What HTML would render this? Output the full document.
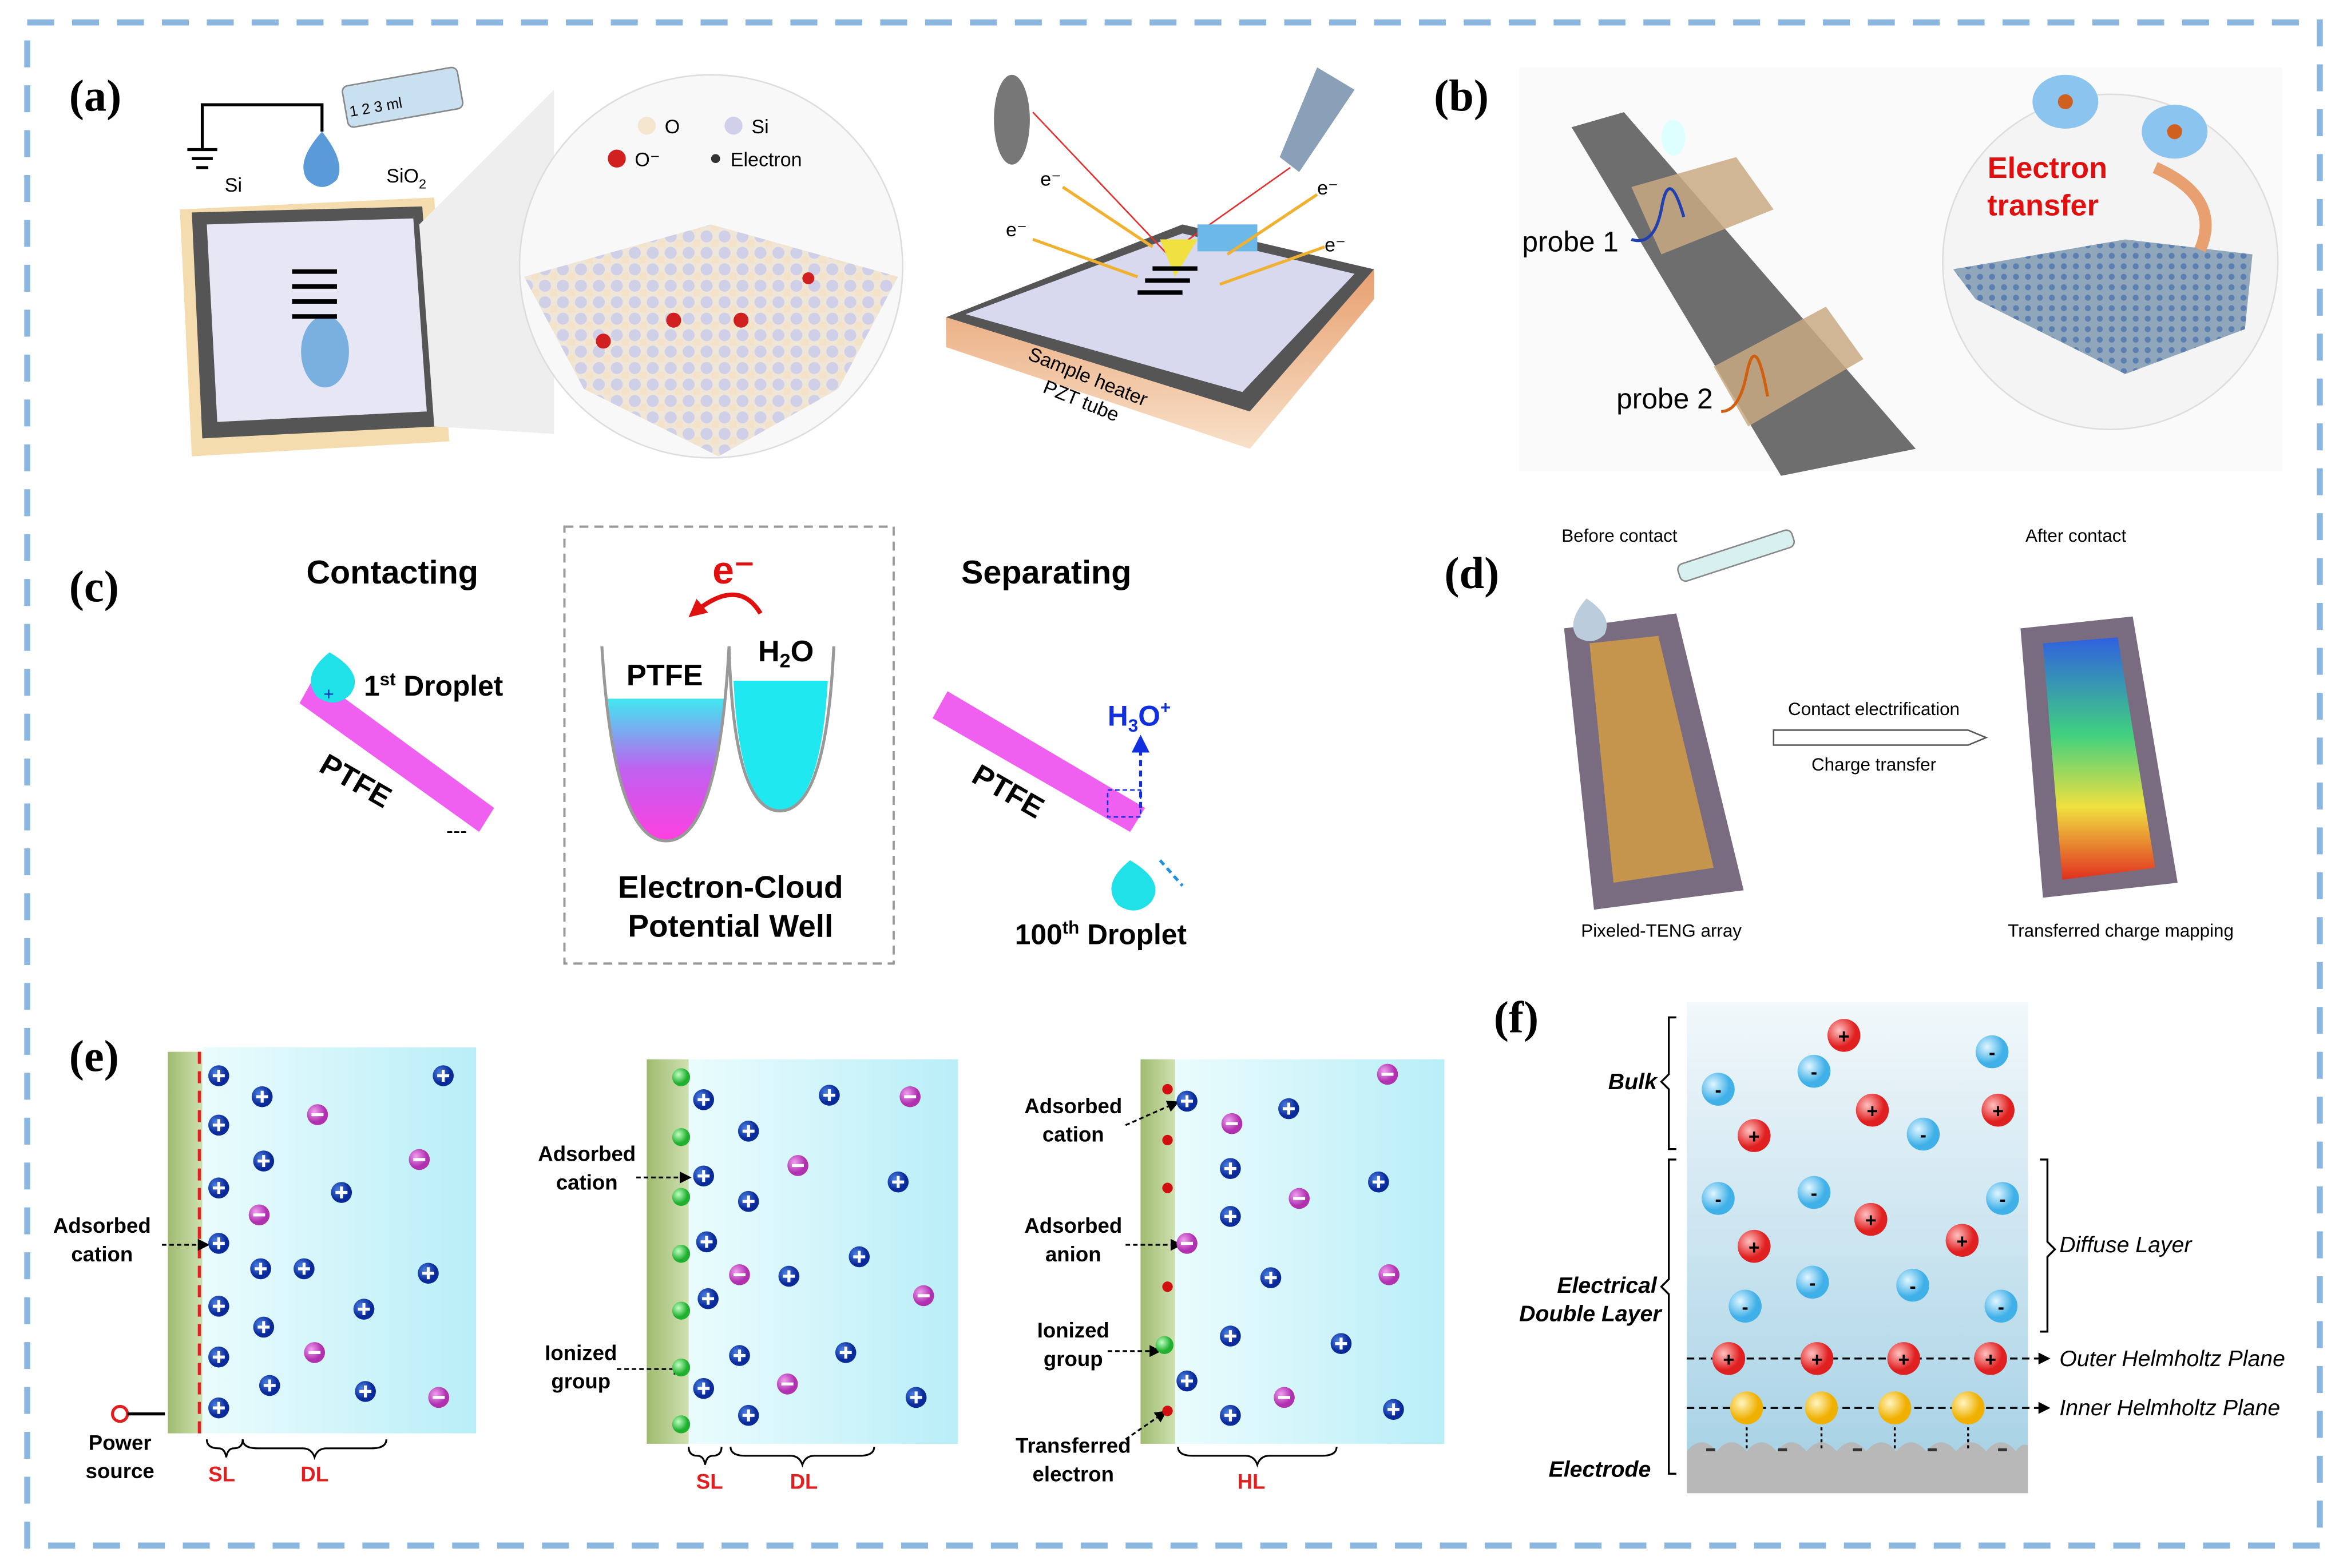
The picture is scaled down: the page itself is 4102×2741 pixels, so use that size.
<!DOCTYPE html>
<html><head><meta charset="utf-8"><style>
html,body{margin:0;padding:0;background:#fff;}
svg{display:block;}
text{font-family:"Liberation Sans",Arial,sans-serif;}
.lab{font-family:"Liberation Serif",serif;font-weight:bold;font-size:30px;}
.b{font-weight:bold;}
</style></head><body>
<svg width="4102" height="2741" viewBox="0 0 1568 1048" xmlns="http://www.w3.org/2000/svg" xmlns:xlink="http://www.w3.org/1999/xlink">
<defs>
<linearGradient id="cy" x1="0" x2="1"><stop offset="0" stop-color="#eafcfd"/><stop offset="1" stop-color="#b9eef8"/></linearGradient>
<linearGradient id="gr" x1="0" x2="1"><stop offset="0" stop-color="#9fbb70"/><stop offset="1" stop-color="#cfe0b0"/></linearGradient>
<linearGradient id="fb" x1="0" y1="0" x2="0" y2="1"><stop offset="0" stop-color="#f2f8fb"/><stop offset="1" stop-color="#a9d3e6"/></linearGradient>
<linearGradient id="well" x1="0" y1="0" x2="0" y2="1"><stop offset="0" stop-color="#40e8f0"/><stop offset="0.5" stop-color="#c060f0"/><stop offset="1" stop-color="#ff40e0"/></linearGradient>
<linearGradient id="heat" x1="0" y1="0" x2="0" y2="1"><stop offset="0" stop-color="#e8a070"/><stop offset="1" stop-color="#f8e0c8"/></linearGradient>
<linearGradient id="map" x1="0" y1="0" x2="0" y2="1"><stop offset="0" stop-color="#3060e0"/><stop offset="0.4" stop-color="#40d080"/><stop offset="0.7" stop-color="#f0e040"/><stop offset="1" stop-color="#e03020"/></linearGradient>
<radialGradient id="cat" cx="0.35" cy="0.35"><stop offset="0" stop-color="#4a7fe0"/><stop offset="1" stop-color="#0a2a9a"/></radialGradient>
<radialGradient id="ani" cx="0.35" cy="0.35"><stop offset="0" stop-color="#f0a0f0"/><stop offset="1" stop-color="#b030b0"/></radialGradient>
<radialGradient id="rp" cx="0.35" cy="0.35"><stop offset="0" stop-color="#ffc0c0"/><stop offset="1" stop-color="#e02020"/></radialGradient>
<radialGradient id="bm" cx="0.35" cy="0.35"><stop offset="0" stop-color="#e0f6ff"/><stop offset="1" stop-color="#40b0e8"/></radialGradient>
<radialGradient id="yl" cx="0.35" cy="0.35"><stop offset="0" stop-color="#fff6c0"/><stop offset="1" stop-color="#f0b000"/></radialGradient>
<radialGradient id="gg" cx="0.35" cy="0.35"><stop offset="0" stop-color="#c0ffc0"/><stop offset="1" stop-color="#20b030"/></radialGradient>
<pattern id="lat" width="12" height="11" patternUnits="userSpaceOnUse"><rect width="12" height="11" fill="#f0e6d8"/><circle cx="4" cy="4" r="4" fill="#cfcfe8"/><circle cx="10" cy="9" r="3" fill="#f3e2c8"/></pattern>
<pattern id="gra" width="8" height="7" patternUnits="userSpaceOnUse"><rect width="8" height="7" fill="#8fa6bb"/><circle cx="3" cy="3" r="2" fill="#5a7fb0"/></pattern>
<marker id="ar" markerUnits="userSpaceOnUse" markerWidth="8" markerHeight="8" refX="6" refY="4" orient="auto"><path d="M0,0 L8,4 L0,8z" fill="#000"/></marker>
<marker id="arr" markerUnits="userSpaceOnUse" markerWidth="12" markerHeight="12" refX="8" refY="6" orient="auto"><path d="M0,0 L12,6 L0,12z" fill="#e01010"/></marker>
<marker id="arb" markerUnits="userSpaceOnUse" markerWidth="12" markerHeight="12" refX="8" refY="6" orient="auto"><path d="M0,0 L12,6 L0,12z" fill="#1030e0"/></marker>
<g id="cp"><circle r="7" fill="url(#cat)"/><rect x="-4" y="-1" width="8" height="2" fill="#fff"/><rect x="-1" y="-4" width="2" height="8" fill="#fff"/></g>
<g id="an"><circle r="7" fill="url(#ani)"/><rect x="-4" y="-1" width="8" height="2" fill="#fff"/></g>
</defs>
<rect x="18" y="15" width="1532" height="1018" fill="#fff" stroke="#8ab6e0" stroke-width="4" stroke-dasharray="18 12"/>

<!-- (a) -->
<text class="lab" x="46" y="74">(a)</text>
<polygon points="120,140 290,132 300,295 128,305" fill="#f5dcae"/>
<polygon points="128,142 282,138 292,285 135,293" fill="#555"/>
<polygon points="138,150 276,146 285,275 145,282" fill="#e6e6f4"/>
<ellipse cx="217" cy="235" rx="16" ry="24" fill="#7ab0e0"/>
<path d="M215,88 q-18,20 -10,32 q10,10 20,0 q6,-12 -10,-32z" fill="#5a9ad8"/>
<rect x="228" y="58" width="78" height="28" rx="4" fill="#c8e0f0" stroke="#888" transform="rotate(-10 228 58)"/>
<text x="234" y="78" font-size="10" transform="rotate(-10 234 78)">1 2 3 ml</text>
<path d="M135,100 V70 H215 V88" stroke="#000" stroke-width="2" fill="none"/>
<path d="M125,100 h20 M128,106 h14 M131,112 h8" stroke="#000" stroke-width="2"/>
<text x="150" y="128" font-size="13">Si</text><text x="258" y="122" font-size="13">SiO<tspan font-size="9" dy="4">2</tspan></text>
<g fill="#000"><rect x="195" y="180" width="30" height="3"/><rect x="195" y="190" width="30" height="3"/><rect x="195" y="200" width="30" height="3"/><rect x="195" y="210" width="30" height="3"/></g>
<polygon points="280,150 370,60 370,290 290,285" fill="#eee"/>
<circle cx="475" cy="178" r="128" fill="#f8f8f8" stroke="#ddd"/>
<polygon points="350,185 475,150 600,185 560,260 480,305 390,260" fill="url(#lat)"/>
<circle cx="432" cy="84" r="6" fill="#f5e6d0"/><text x="444" y="89" font-size="13">O</text>
<circle cx="490" cy="84" r="6" fill="#d0d0ea"/><text x="502" y="89" font-size="13">Si</text>
<circle cx="412" cy="106" r="6" fill="#d02020"/><text x="424" y="111" font-size="13">O⁻</text>
<circle cx="478" cy="106" r="3" fill="#333"/><text x="488" y="111" font-size="13">Electron</text>
<circle cx="403" cy="228" r="5" fill="#d02020"/><circle cx="450" cy="214" r="5" fill="#d02020"/><circle cx="495" cy="214" r="5" fill="#d02020"/><circle cx="540" cy="186" r="4" fill="#d02020"/>
<polygon points="632,232 835,300 918,200 918,180 835,275 632,212" fill="url(#heat)"/>
<polygon points="632,212 790,150 918,180 835,275" fill="#555"/>
<polygon points="645,210 790,156 905,183 830,262" fill="#d8d8ee"/>
<text x="686" y="240" font-size="13" transform="rotate(22 686 240)">Sample heater</text>
<text x="696" y="262" font-size="13" transform="rotate(22 696 262)">PZT tube</text>
<ellipse cx="676" cy="80" rx="12" ry="30" fill="#777"/>
<polygon points="880,45 905,60 868,115 855,105" fill="#8aa0b8"/>
<path d="M690,75 L780,170 L862,112" stroke="#e03030" fill="none"/>
<rect x="800" y="150" width="40" height="18" fill="#6cb8e8"/>
<polygon points="775,160 800,160 785,185" fill="#f0e040"/>
<g fill="#000"><rect x="770" y="178" width="30" height="3"/><rect x="765" y="186" width="30" height="3"/><rect x="760" y="194" width="30" height="3"/></g>
<g stroke="#f0b030" stroke-width="2" fill="none"><path d="M710,125 L770,165"/><path d="M690,160 L760,185"/><path d="M880,130 L820,170"/><path d="M885,165 L815,190"/></g>
<text x="695" y="124" font-size="13">e⁻</text><text x="672" y="158" font-size="13">e⁻</text><text x="880" y="130" font-size="13">e⁻</text><text x="885" y="168" font-size="13">e⁻</text>

<!-- (b) -->
<text class="lab" x="958" y="74">(b)</text>
<rect x="1015" y="45" width="510" height="270" fill="#fafafa"/>
<polygon points="1050,85 1085,75 1280,300 1190,318" fill="#6e6e6e"/>
<polygon points="1090,125 1160,105 1185,140 1110,170" fill="#c9a984" opacity="0.85"/>
<polygon points="1145,245 1220,205 1245,240 1168,285" fill="#c9a984" opacity="0.85"/>
<ellipse cx="1118" cy="92" rx="8" ry="12" fill="#dff"/>
<path d="M1090,160 q15,5 20,-20 q5,-30 15,5" stroke="#2040b0" stroke-width="2" fill="none"/>
<path d="M1150,275 q12,0 17,-25 q6,-30 14,15" stroke="#d06010" stroke-width="2" fill="none"/>
<text x="1017" y="168" font-size="19">probe 1</text><text x="1080" y="273" font-size="19">probe 2</text>
<circle cx="1410" cy="175" r="112" fill="#f4f4f4" stroke="#ddd"/>
<polygon points="1305,180 1420,160 1505,170 1500,220 1420,250 1320,200" fill="url(#gra)"/>
<ellipse cx="1380" cy="68" rx="22" ry="18" fill="#8cc4f0"/><ellipse cx="1453" cy="88" rx="22" ry="18" fill="#8cc4f0"/>
<circle cx="1380" cy="68" r="5" fill="#d06020"/><circle cx="1453" cy="88" r="5" fill="#d06020"/>
<text x="1368" y="119" font-size="20" class="b" fill="#e01010" text-anchor="middle">Electron</text>
<text x="1365" y="144" font-size="20" class="b" fill="#e01010" text-anchor="middle">transfer</text>
<path d="M1440,112 q45,20 30,55" stroke="#e8a070" stroke-width="8" fill="none"/>

<!-- (c) -->
<text class="lab" x="46" y="402">(c)</text>
<text x="262" y="390" font-size="22" class="b" text-anchor="middle">Contacting</text>
<text x="699" y="390" font-size="22" class="b" text-anchor="middle">Separating</text>
<rect x="377" y="352" width="220" height="292" fill="none" stroke="#999" stroke-width="1.5" stroke-dasharray="6 4"/>
<polygon points="200,470 210,452 330,540 320,556" fill="#f060f0"/>
<path d="M220,436 q-20,16 -8,30 q12,8 22,-2 q10,-14 -14,-28z" fill="#20e0e8"/>
<text x="216" y="468" font-size="12" fill="#1030c0">+</text>
<text x="243" y="465" font-size="19" class="b">1<tspan font-size="12" dy="-7">st</tspan><tspan dy="7"> Droplet</tspan></text>
<text x="212" y="515" font-size="20" class="b" transform="rotate(30 212 515)">PTFE</text>
<text x="298" y="560" font-size="14">---</text>
<path d="M406,467 L484,467 Q475,560 445,562 Q415,560 406,467z" fill="url(#well)"/>
<path d="M402,432 Q410,562 445,562 Q480,562 487,432" fill="none" stroke="#999" stroke-width="2"/>
<path d="M490,455 L553,455 Q548,540 521,542 Q494,540 490,455z" fill="#20e8f0"/>
<path d="M487,432 Q490,542 521,542 Q552,542 557,432" fill="none" stroke="#999" stroke-width="2"/>
<text x="444" y="458" font-size="20" class="b" text-anchor="middle">PTFE</text>
<text x="525" y="442" font-size="20" class="b" text-anchor="middle">H<tspan font-size="13" dy="4">2</tspan><tspan dy="-4">O</tspan></text>
<text x="490" y="390" font-size="26" class="b" fill="#e01010" text-anchor="middle">e⁻</text>
<path d="M508,410 q-15,-25 -45,0" stroke="#e01010" stroke-width="3" fill="none" marker-end="url(#arr)"/>
<text x="488" y="600" font-size="21" class="b" text-anchor="middle">Electron-Cloud</text>
<text x="488" y="626" font-size="21" class="b" text-anchor="middle">Potential Well</text>
<polygon points="623,480 633,462 765,540 755,556" fill="#f060f0"/>
<text x="648" y="522" font-size="20" class="b" transform="rotate(30 648 522)">PTFE</text>
<rect x="740" y="528" width="22" height="18" fill="none" stroke="#1030e0" stroke-dasharray="3 2"/>
<path d="M762,540 V495" stroke="#1030e0" stroke-width="2" stroke-dasharray="4 3" marker-end="url(#arb)"/>
<text x="740" y="485" font-size="19" class="b" fill="#1030e0">H<tspan font-size="12" dy="4">3</tspan><tspan dy="-4">O</tspan><tspan font-size="12" dy="-8">+</tspan></text>
<path d="M755,575 q-20,16 -8,30 q12,8 22,-2 q10,-14 -14,-28z" fill="#20e0e8"/>
<path d="M775,575 L790,592" stroke="#2090e0" stroke-width="2" stroke-dasharray="4 3"/>
<text x="678" y="631" font-size="19" class="b">100<tspan font-size="12" dy="-7">th</tspan><tspan dy="7"> Droplet</tspan></text>

<!-- (d) -->
<text class="lab" x="965" y="393">(d)</text>
<text x="1082" y="362" font-size="12" text-anchor="middle">Before contact</text>
<text x="1387" y="362" font-size="12" text-anchor="middle">After contact</text>
<polygon points="1045,420 1120,410 1165,595 1065,608" fill="#7a6c80"/>
<polygon points="1062,430 1108,425 1145,580 1078,590" fill="#d8a040" opacity="0.8"/>
<rect x="1120" y="378" width="80" height="12" rx="4" fill="#d8f0f0" stroke="#888" transform="rotate(-18 1120 378)"/>
<path d="M1060,400 q-14,16 -6,26 q10,6 18,-2 q6,-12 -12,-24z" fill="#bcd"/>
<polygon points="1350,420 1425,412 1455,590 1365,600" fill="#7a6c80"/>
<polygon points="1365,430 1415,426 1440,580 1378,588" fill="url(#map)"/>
<path d="M1185,488 H1315 l12,5 -12,5 H1185z" fill="#fff" stroke="#555"/>
<text x="1252" y="478" font-size="12" text-anchor="middle">Contact electrification</text>
<text x="1252" y="515" font-size="12" text-anchor="middle">Charge transfer</text>
<text x="1110" y="626" font-size="12" text-anchor="middle">Pixeled-TENG array</text>
<text x="1417" y="626" font-size="12" text-anchor="middle">Transferred charge mapping</text>

<!-- (e) -->
<text class="lab" x="46" y="716">(e)</text>
<rect x="135" y="700" width="183" height="258" fill="url(#cy)"/>
<rect x="112" y="703" width="23" height="255" fill="url(#gr)"/>
<line x1="133" y1="703" x2="133" y2="958" stroke="#e02020" stroke-width="2" stroke-dasharray="8 5"/>
<rect x="460" y="708" width="180" height="257" fill="url(#cy)"/>
<rect x="432" y="708" width="28" height="257" fill="url(#gr)"/>
<rect x="785" y="708" width="180" height="257" fill="url(#cy)"/>
<rect x="762" y="708" width="23" height="257" fill="url(#gr)"/>
<g font-size="14" class="b" text-anchor="middle">
<text x="68" y="824">Adsorbed</text><text x="68" y="843">cation</text>
<text x="80" y="969">Power</text><text x="80" y="988">source</text>
<text x="392" y="776">Adsorbed</text><text x="392" y="795">cation</text>
<text x="388" y="909">Ionized</text><text x="388" y="928">group</text>
<text x="717" y="744">Adsorbed</text><text x="717" y="763">cation</text>
<text x="717" y="824">Adsorbed</text><text x="717" y="843">anion</text>
<text x="717" y="894">Ionized</text><text x="717" y="913">group</text>
<text x="717" y="971">Transferred</text><text x="717" y="990">electron</text>
</g>
<g font-size="14" class="b" fill="#e02020" text-anchor="middle">
<text x="148" y="990">SL</text><text x="210" y="990">DL</text>
<text x="474" y="995">SL</text><text x="537" y="995">DL</text><text x="836" y="995">HL</text>
</g>
<g stroke="#000" fill="none" stroke-width="1.2">
<path d="M138,962 q0,6 8,6 q4,0 5,6 q1,-6 5,-6 q6,0 6,-6"/>
<path d="M162,962 q0,6 10,6 h30 q6,0 8,6 q2,-6 8,-6 h30 q10,0 10,-6"/>
<path d="M460,967 q0,6 6,6 q4,0 5,6 q1,-6 5,-6 q6,0 6,-6"/>
<path d="M488,967 q0,6 10,6 h30 q6,0 8,6 q2,-6 8,-6 h30 q10,0 10,-6"/>
<path d="M787,967 q0,6 10,6 h35 q6,0 8,6 q2,-6 8,-6 h35 q10,0 10,-6"/>
<path d="M108,832 H138" stroke-dasharray="3 2" marker-end="url(#ar)"/>
<path d="M425,787 H460" stroke-dasharray="3 2" marker-end="url(#ar)"/>
<path d="M412,915 H456" stroke-dasharray="3 2" marker-end="url(#ar)"/>
<path d="M752,752 L786,737" stroke-dasharray="3 2" marker-end="url(#ar)"/>
<path d="M752,832 H788" stroke-dasharray="3 2" marker-end="url(#ar)"/>
<path d="M740,903 H774" stroke-dasharray="3 2" marker-end="url(#ar)"/>
<path d="M752,962 L778,944" stroke-dasharray="3 2" marker-end="url(#ar)"/>
</g>
<circle cx="80" cy="945" r="5" fill="#fff" stroke="#e02020" stroke-width="2"/><line x1="85" y1="945" x2="110" y2="945" stroke="#000" stroke-width="2"/>
<g>
<use xlink:href="#cp" x="146" y="719"/><use xlink:href="#cp" x="146" y="752"/><use xlink:href="#cp" x="146" y="794"/><use xlink:href="#cp" x="146" y="831"/><use xlink:href="#cp" x="146" y="873"/><use xlink:href="#cp" x="146" y="907"/><use xlink:href="#cp" x="146" y="941"/>
<use xlink:href="#cp" x="175" y="733"/><use xlink:href="#cp" x="176" y="776"/><use xlink:href="#cp" x="228" y="797"/><use xlink:href="#cp" x="174" y="848"/><use xlink:href="#cp" x="203" y="848"/><use xlink:href="#cp" x="176" y="887"/><use xlink:href="#cp" x="243" y="875"/><use xlink:href="#cp" x="180" y="926"/><use xlink:href="#cp" x="244" y="930"/><use xlink:href="#cp" x="286" y="851"/><use xlink:href="#cp" x="296" y="719"/>
<use xlink:href="#cp" x="470" y="735"/><use xlink:href="#cp" x="470" y="786"/><use xlink:href="#cp" x="472" y="830"/><use xlink:href="#cp" x="473" y="868"/><use xlink:href="#cp" x="500" y="756"/><use xlink:href="#cp" x="500" y="803"/><use xlink:href="#cp" x="554" y="732"/><use xlink:href="#cp" x="600" y="790"/><use xlink:href="#cp" x="527" y="853"/><use xlink:href="#cp" x="574" y="840"/><use xlink:href="#cp" x="494" y="906"/><use xlink:href="#cp" x="565" y="904"/><use xlink:href="#cp" x="500" y="946"/><use xlink:href="#cp" x="612" y="934"/><use xlink:href="#cp" x="470" y="928"/>
<use xlink:href="#cp" x="793" y="736"/><use xlink:href="#cp" x="861" y="741"/><use xlink:href="#cp" x="822" y="781"/><use xlink:href="#cp" x="822" y="813"/><use xlink:href="#cp" x="921" y="790"/><use xlink:href="#cp" x="849" y="854"/><use xlink:href="#cp" x="822" y="893"/><use xlink:href="#cp" x="896" y="898"/><use xlink:href="#cp" x="793" y="923"/><use xlink:href="#cp" x="822" y="946"/><use xlink:href="#cp" x="931" y="942"/>
<use xlink:href="#an" x="212" y="745"/><use xlink:href="#an" x="173" y="812"/><use xlink:href="#an" x="280" y="775"/><use xlink:href="#an" x="210" y="904"/><use xlink:href="#an" x="293" y="934"/>
<use xlink:href="#an" x="608" y="733"/><use xlink:href="#an" x="533" y="779"/><use xlink:href="#an" x="494" y="852"/><use xlink:href="#an" x="617" y="866"/><use xlink:href="#an" x="526" y="925"/>
<use xlink:href="#an" x="823" y="751"/><use xlink:href="#an" x="927" y="718"/><use xlink:href="#an" x="868" y="801"/><use xlink:href="#an" x="793" y="831"/><use xlink:href="#an" x="928" y="852"/><use xlink:href="#an" x="858" y="934"/>
</g>
<g fill="url(#gg)"><circle cx="455" cy="720" r="6"/><circle cx="455" cy="760" r="6"/><circle cx="455" cy="800" r="6"/><circle cx="455" cy="838" r="6"/><circle cx="455" cy="876" r="6"/><circle cx="455" cy="914" r="6"/><circle cx="455" cy="952" r="6"/><circle cx="778" cy="899" r="6"/></g>
<g fill="#d01010"><circle cx="780" cy="728" r="3.5"/><circle cx="780" cy="762" r="3.5"/><circle cx="780" cy="794" r="3.5"/><circle cx="780" cy="860" r="3.5"/><circle cx="780" cy="943" r="3.5"/></g>

<!-- (f) -->
<text class="lab" x="998" y="690">(f)</text>
<rect x="1127" y="670" width="228" height="300" fill="url(#fb)"/>
<path d="M1127,970 q10,-12 20,0 q10,-12 20,0 q10,-12 20,0 q10,-12 20,0 q10,-12 20,0 q10,-12 20,0 q10,-12 20,0 q10,-12 20,0 q10,-12 20,0 q10,-12 20,0 q10,-12 20,0 q4,-6 8,-4 V998 H1127z" fill="#b8b8b8"/>
<g fill="#333"><rect x="1140" y="968" width="6" height="2"/><rect x="1188" y="968" width="6" height="2"/><rect x="1238" y="968" width="6" height="2"/><rect x="1288" y="968" width="6" height="2"/><rect x="1335" y="968" width="6" height="2"/></g>
<g font-size="15" class="b" font-style="italic" text-anchor="end">
<text x="1107" y="728">Bulk</text><text x="1107" y="864">Electrical</text><text x="1110" y="883">Double Layer</text><text x="1103" y="987">Electrode</text>
</g>
<g font-size="15" font-style="italic">
<text x="1376" y="837">Diffuse Layer</text><text x="1376" y="913">Outer Helmholtz Plane</text><text x="1376" y="946">Inner Helmholtz Plane</text>
</g>
<g stroke="#000" fill="none" stroke-width="1.3">
<path d="M1120,680 h-5 v38 l-5,5 l5,5 v40 h5"/>
<path d="M1120,775 h-5 v80 l-5,5 l5,5 v120 h5"/>
<path d="M1363,775 h5 v55 l5,5 l-5,5 v50 h-5"/>
<path d="M1127,908 H1368" stroke-dasharray="5 3" marker-end="url(#ar)"/>
<path d="M1127,941 H1368" stroke-dasharray="5 3" marker-end="url(#ar)"/>
<path d="M1167,950 V970 M1217,950 V970 M1266,950 V970 M1315,950 V970" stroke-dasharray="2 2"/>
</g>
<g fill="url(#rp)"><circle cx="1232" cy="692" r="11"/><circle cx="1172" cy="759" r="11"/><circle cx="1251" cy="742" r="11"/><circle cx="1335" cy="742" r="11"/><circle cx="1172" cy="833" r="11"/><circle cx="1250" cy="815" r="11"/><circle cx="1311" cy="829" r="11"/><circle cx="1155" cy="908" r="11"/><circle cx="1214" cy="908" r="11"/><circle cx="1272" cy="908" r="11"/><circle cx="1330" cy="908" r="11"/></g>
<g fill="url(#bm)"><circle cx="1148" cy="728" r="11"/><circle cx="1212" cy="716" r="11"/><circle cx="1331" cy="703" r="11"/><circle cx="1285" cy="758" r="11"/><circle cx="1148" cy="801" r="11"/><circle cx="1212" cy="797" r="11"/><circle cx="1338" cy="801" r="11"/><circle cx="1211" cy="857" r="11"/><circle cx="1278" cy="859" r="11"/><circle cx="1166" cy="873" r="11"/><circle cx="1337" cy="873" r="11"/></g>
<g fill="url(#yl)"><circle cx="1167" cy="941" r="11"/><circle cx="1217" cy="941" r="11"/><circle cx="1266" cy="941" r="11"/><circle cx="1315" cy="941" r="11"/></g>
<g font-size="13" class="b" text-anchor="middle" fill="#000">
<text x="1232" y="697">+</text><text x="1172" y="764">+</text><text x="1251" y="747">+</text><text x="1335" y="747">+</text><text x="1172" y="838">+</text><text x="1250" y="820">+</text><text x="1311" y="834">+</text><text x="1155" y="913">+</text><text x="1214" y="913">+</text><text x="1272" y="913">+</text><text x="1330" y="913">+</text>
<text x="1148" y="733">-</text><text x="1212" y="721">-</text><text x="1331" y="708">-</text><text x="1285" y="763">-</text><text x="1148" y="806">-</text><text x="1212" y="802">-</text><text x="1338" y="806">-</text><text x="1211" y="862">-</text><text x="1278" y="864">-</text><text x="1166" y="878">-</text><text x="1337" y="878">-</text>
</g>
</svg>
</body></html>
